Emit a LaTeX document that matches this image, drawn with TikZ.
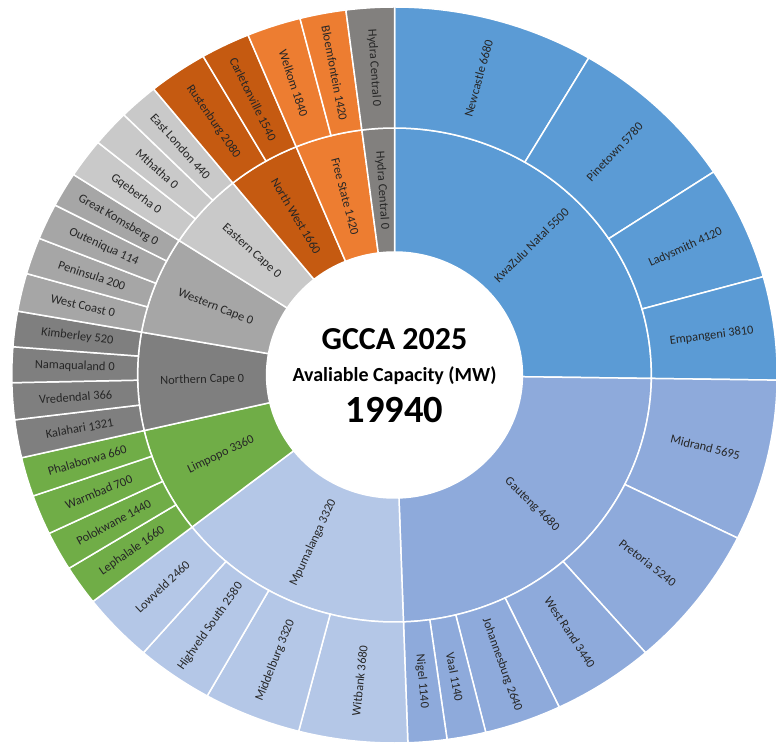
\documentclass[tikz,border=0pt]{standalone}
\usepackage{fontspec}
\setmainfont{Carlito}
\usepackage{tikz}
\usetikzlibrary{positioning}
\definecolor{kznblue}{RGB}{91,155,213}
\definecolor{gtgblue}{RGB}{142,170,219}
\definecolor{mpublue}{RGB}{180,199,231}
\definecolor{limgreen}{RGB}{112,173,71}
\definecolor{ncgray}{RGB}{127,127,127}
\definecolor{wcgray}{RGB}{166,166,166}
\definecolor{ecgray}{RGB}{201,201,201}
\definecolor{nwbrown}{RGB}{197,90,17}
\definecolor{fsorange}{RGB}{237,125,49}
\definecolor{hydgray}{RGB}{130,128,126}
\tikzset{part/.style={draw=white, line width=1.5pt},
         lbl/.style={font=\fontsize{12.4}{14}\selectfont, text=black!85, inner sep=0pt},
         big/.style={font=\bfseries\fontsize{32}{36}\selectfont, anchor=base},
         mid/.style={font=\bfseries\fontsize{20}{24}\selectfont, anchor=base},
         total/.style={font=\bfseries\fontsize{38.5}{42}\selectfont, anchor=base}
}
% #1 name, #2 colour, #3 inner radius, #4 outer radius, #5 from, #6 to (clockwise from top), #7 text
\newcommand{\sbpart}[7]{%
  \filldraw[part, fill=#2] ({90-#5}:#3) arc[start angle={90-#5}, end angle={90-#6}, radius=#3]
     -- ({90-#6}:#4) arc[start angle={90-#6}, end angle={90-#5}, radius=#4] -- cycle;
  \pgfmathsetmacro{\sbmid}{(#5+#6)/2}%
  \pgfmathsetmacro{\sbrot}{\sbmid<180 ? 90-\sbmid : 270-\sbmid}%
  \node[lbl, rotate=\sbrot] (#1) at ({90-\sbmid}:{(#3+#4)/2}) {#7};}

\begin{document}
\begin{tikzpicture}[x=1.04pt, y=1pt]
   \useasboundingbox (-379.33,-374) rectangle (366.83,375);
   % provinces
   \sbpart{kzn}{kznblue}{123}{247}{0}{90.8}{KwaZulu Natal 5500}
   \sbpart{gauteng}{gtgblue}{123}{247}{90.8}{178}{Gauteng 4680}
   \sbpart{mpumalanga}{mpublue}{123}{247}{178}{232}{Mpumalanga 3320}
   \sbpart{limpopo}{limgreen}{123}{247}{232}{257}{Limpopo 3360}
   \sbpart{ncape}{ncgray}{123}{247}{257}{280}{Northern Cape 0}
   \sbpart{wcape}{wcgray}{123}{247}{280}{303}{Western Cape 0}
   \sbpart{ecape}{ecgray}{123}{247}{303}{321}{Eastern Cape 0}
   \sbpart{nwest}{nwbrown}{123}{247}{321}{337.5}{North West 1660}
   \sbpart{fstate}{fsorange}{123}{247}{337.5}{352.7}{Free State 1420}
   \sbpart{hydra}{hydgray}{123}{247}{352.7}{360}{Hydra Central 0}
   % zones
   \sbpart{newcastle}{kznblue}{247}{368}{0}{30.5}{Newcastle 6680}
   \sbpart{pinetown}{kznblue}{247}{368}{30.5}{56.5}{Pinetown 5780}
   \sbpart{ladysmith}{kznblue}{247}{368}{56.5}{74.5}{Ladysmith 4120}
   \sbpart{empangeni}{kznblue}{247}{368}{74.5}{90.8}{Empangeni 3810}
   \sbpart{midrand}{gtgblue}{247}{368}{90.8}{116.3}{Midrand 5695}
   \sbpart{pretoria}{gtgblue}{247}{368}{116.3}{139}{Pretoria 5240}
   \sbpart{westrand}{gtgblue}{247}{368}{139}{154.5}{West Rand 3440}
   \sbpart{jhb}{gtgblue}{247}{368}{154.5}{166.2}{Johannesburg 2640}
   \sbpart{vaal}{gtgblue}{247}{368}{166.2}{172.1}{Vaal 1140}
   \sbpart{nigel}{gtgblue}{247}{368}{172.1}{178}{Nigel 1140}
   \sbpart{witbank}{mpublue}{247}{368}{178}{194.5}{Witbank 3680}
   \sbpart{middelburg}{mpublue}{247}{368}{194.5}{209.3}{Middelburg 3320}
   \sbpart{highveld}{mpublue}{247}{368}{209.3}{221}{Highveld South 2580}
   \sbpart{lowveld}{mpublue}{247}{368}{221}{232}{Lowveld 2460}
   \sbpart{lephalale}{limgreen}{247}{368}{232}{238.3}{Lephalale 1660}
   \sbpart{polokwane}{limgreen}{247}{368}{238.3}{244.5}{Polokwane 1440}
   \sbpart{warmbad}{limgreen}{247}{368}{244.5}{250.8}{Warmbad 700}
   \sbpart{phalaborwa}{limgreen}{247}{368}{250.8}{257}{Phalaborwa 660}
   \sbpart{kalahari}{ncgray}{247}{368}{257}{263}{Kalahari 1321}
   \sbpart{vredendal}{ncgray}{247}{368}{263}{268.8}{Vredendal 366}
   \sbpart{namaqualand}{ncgray}{247}{368}{268.8}{274.4}{Namaqualand 0}
   \sbpart{kimberley}{ncgray}{247}{368}{274.4}{280}{Kimberley 520}
   \sbpart{westcoast}{wcgray}{247}{368}{280}{286}{West Coast 0}
   \sbpart{peninsula}{wcgray}{247}{368}{286}{291.8}{Peninsula 200}
   \sbpart{outeniqua}{wcgray}{247}{368}{291.8}{297.5}{Outeniqua 114}
   \sbpart{komsberg}{wcgray}{247}{368}{297.5}{303}{Great Komsberg 0}
   \sbpart{gqeberha}{ecgray}{247}{368}{303}{309.2}{Gqeberha 0}
   \sbpart{mthatha}{ecgray}{247}{368}{309.2}{315}{Mthatha 0}
   \sbpart{eastlondon}{ecgray}{247}{368}{315}{321}{East London 440}
   \sbpart{rustenburg}{nwbrown}{247}{368}{321}{330}{Rustenburg 2080}
   \sbpart{carletonville}{nwbrown}{247}{368}{330}{337.5}{Carletonville 1540}
   \sbpart{welkom}{fsorange}{247}{368}{337.5}{345.7}{Welkom 1840}
   \sbpart{bloemfontein}{fsorange}{247}{368}{345.7}{352.7}{Bloemfontein 1420}
   \sbpart{hydraout}{hydgray}{247}{368}{352.7}{360}{Hydra Central 0}
   % centre
   \node[big] (gcca) at (0,25) {GCCA 2025};
   \node[mid] (cap) at (0,-6.5) {Avaliable Capacity (MW)};
   \node[total] (sum) at (0,-48) {19940};
\end{tikzpicture}
\end{document}
